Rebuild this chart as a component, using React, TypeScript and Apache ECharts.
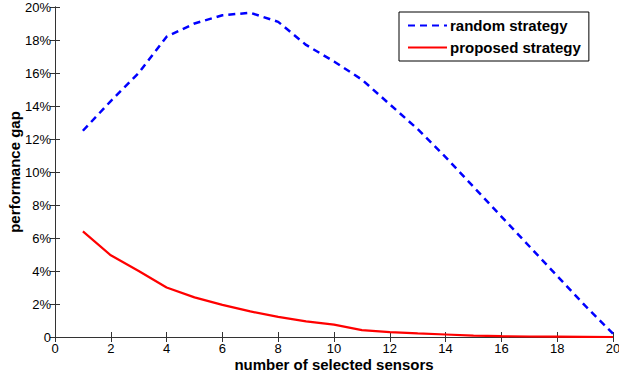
import React, { useEffect, useRef } from "react";
import * as echarts from "echarts";

const sensors = [1, 2, 3, 4, 5, 6, 7, 8, 9, 10, 11, 12, 13, 14, 15, 16, 17, 18, 19, 20];
const randomGap = [12.5, 14.3, 16.0, 18.2, 19.0, 19.5, 19.65, 19.1, 17.7, 16.7, 15.6, 14.1, 12.6, 10.9, 9.1, 7.3, 5.5, 3.7, 1.9, 0.2];
const proposedGap = [6.4, 4.95, 4.0, 3.0, 2.4, 1.95, 1.55, 1.22, 0.95, 0.75, 0.42, 0.3, 0.22, 0.15, 0.08, 0.05, 0.03, 0.02, 0.01, 0.0];
const seriesNames = ["random strategy", "proposed strategy"];

const FONT = "'Liberation Sans', Arial, Helvetica, sans-serif";
const AXIS_COLOR = "#333";

export default function App() {
  const ref = useRef<HTMLDivElement>(null);
  useEffect(() => {
    if (!ref.current) return;
    const chart = echarts.init(ref.current, undefined, { renderer: "svg" });
    const axisCommon = {
      axisLine: { show: true, lineStyle: { color: AXIS_COLOR, width: 1 } },
      axisTick: { show: true, inside: true, length: 5, lineStyle: { color: AXIS_COLOR } },
      splitLine: { show: false },
    };
    chart.setOption({
      animation: false,
      backgroundColor: "#fff",
      textStyle: { fontFamily: FONT },
      grid: { left: 55, right: 6, top: 7, bottom: 39, containLabel: false, outerBoundsMode: "none" },
      legend: {
        left: 399,
        top: 12,
        orient: "vertical",
        itemWidth: 39,
        itemHeight: 14,
        itemGap: 7,
        padding: [6, 8, 6, 8],
        borderColor: "#000",
        borderWidth: 1,
        backgroundColor: "#fff",
        itemStyle: { opacity: 0 },
        data: seriesNames,
        textStyle: { fontFamily: FONT, fontSize: 15, fontWeight: "bold", color: "#000", padding: [0, 0, 0, -2] },
      },
      xAxis: [
        {
          type: "value",
          min: 0,
          max: 20,
          interval: 2,
          position: "bottom",
          ...axisCommon,
          axisLabel: { color: "#000", fontSize: 13, fontFamily: FONT, margin: 5 },
          name: "number of selected sensors",
          nameLocation: "middle",
          nameGap: 20,
          nameMoveOverlap: false,
          nameTextStyle: { fontFamily: FONT, fontSize: 15, fontWeight: "bold", color: "#000" },
        },
        {
          type: "value",
          min: 0,
          max: 20,
          interval: 2,
          position: "top",
          ...axisCommon,
          axisLabel: { show: false },
        },
      ],
      yAxis: [
        {
          type: "value",
          min: 0,
          max: 20,
          interval: 2,
          position: "left",
          ...axisCommon,
          axisLabel: {
            color: "#000",
            fontSize: 13,
            fontFamily: FONT,
            margin: 4,
            formatter: (v: number) => (v === 0 ? "0" : v + "%"),
          },
          name: "performance gap",
          nameLocation: "middle",
          nameGap: 33,
          nameMoveOverlap: false,
          nameTextStyle: { fontFamily: FONT, fontSize: 15, fontWeight: "bold", color: "#000" },
        },
        {
          type: "value",
          min: 0,
          max: 20,
          interval: 2,
          position: "right",
          ...axisCommon,
          axisLabel: { show: false },
        },
      ],
      series: [
        {
          name: seriesNames[0],
          type: "line",
          symbol: "none",
          data: sensors.map((x, i) => [x, randomGap[i]]),
          lineStyle: { color: "#0000ff", width: 2.5, type: [7, 5] },
          itemStyle: { color: "#0000ff" },
        },
        {
          name: seriesNames[1],
          type: "line",
          symbol: "none",
          data: sensors.map((x, i) => [x, proposedGap[i]]),
          lineStyle: { color: "#ff0000", width: 2.2, type: "solid" },
          itemStyle: { color: "#ff0000" },
        },
      ],
    });
    return () => chart.dispose();
  }, []);
  return <div ref={ref} style={{ width: 619, height: 376, position: "absolute", left: 0, top: 0 }} />;
}
